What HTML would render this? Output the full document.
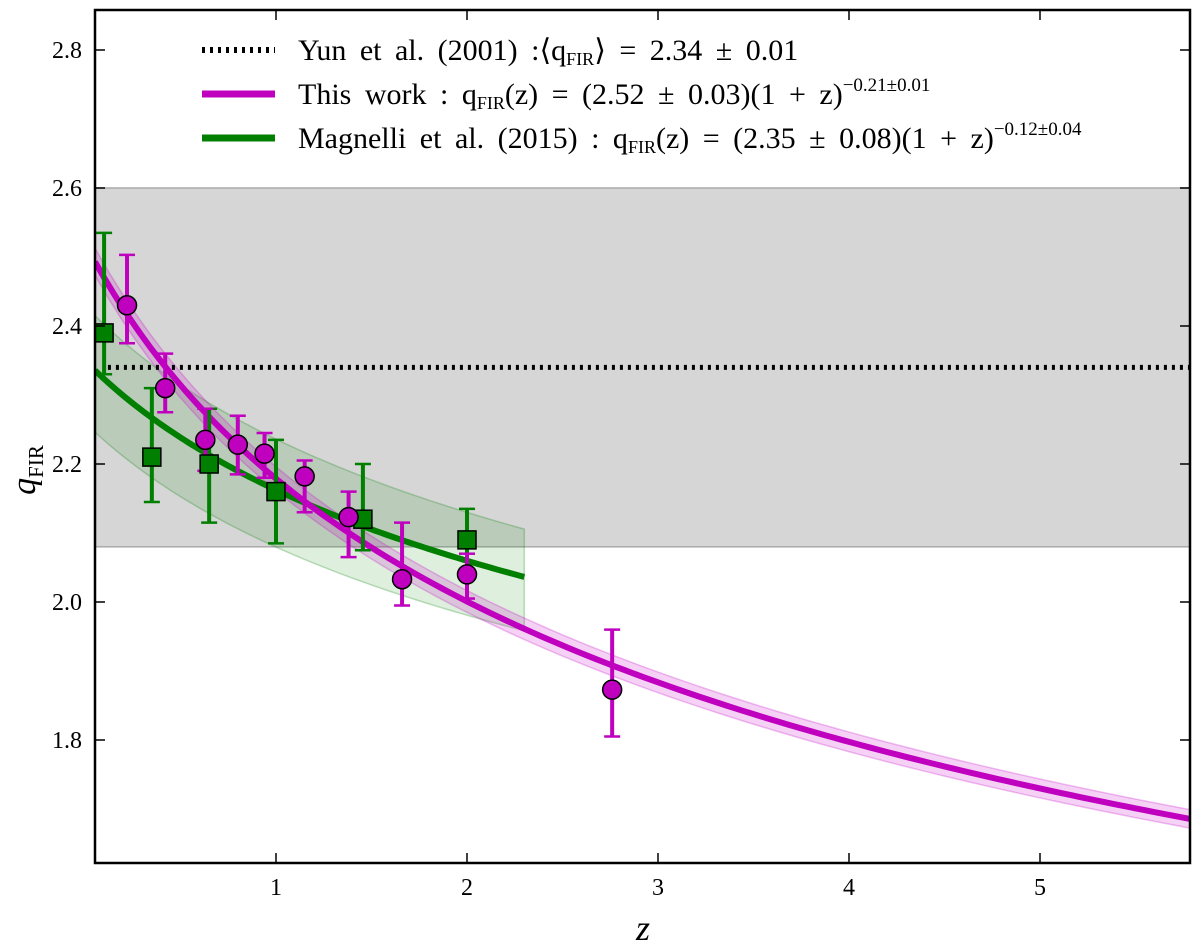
<!DOCTYPE html>
<html><head><meta charset="utf-8"><style>
body{margin:0;background:#fff;}
svg text{font-family:"Liberation Serif",serif;}
</style></head><body>
<svg id="chart" width="1200" height="947" xmlns="http://www.w3.org/2000/svg"></svg>
<script>
const magZ=[0.22,0.42,0.63,0.80,0.94,1.15,1.38,1.66,2.0,2.76];
const magQ=[2.43,2.31,2.235,2.228,2.215,2.182,2.123,2.033,2.04,1.873];
const magLo=[2.375,2.275,2.19,2.185,2.18,2.13,2.065,1.995,2.005,1.805];
const magHi=[2.503,2.36,2.28,2.27,2.245,2.205,2.16,2.115,2.07,1.96];
const grnZ=[0.10,0.35,0.65,1.0,1.455,2.0];
const grnQ=[2.39,2.21,2.20,2.16,2.12,2.09];
const grnLo=[2.33,2.145,2.115,2.085,2.075,2.045];
const grnHi=[2.535,2.31,2.28,2.235,2.20,2.135];
const xTicks=[1,2,3,4,5];
const yTicks=[1.8,2.0,2.2,2.4,2.6,2.8];
const fitMag=[2.52,-0.21], fitGrn=[2.35,-0.12];
const yunQ=2.34, bandLo=2.08, bandHi=2.6;

const L=95,R=1190,T=10,B=863;
const X=z=>85+191*z, Y=v=>602-(v-2)*690;
const svg=document.getElementById('chart');
const NS='http://www.w3.org/2000/svg';
function mk(tag,attrs,parent){const e=document.createElementNS(NS,tag);for(const k in attrs)e.setAttribute(k,attrs[k]);(parent||svg).appendChild(e);return e;}
const zmin=(L-85)/191, zmax=(R-85)/191;
const clip=mk('clipPath',{id:'pc'});mk('rect',{x:L,y:T,width:R-L,height:B-T},clip);
const g=mk('g',{'clip-path':'url(#pc)'});
let e;
e=mk('rect',{x:L,y:Y(bandHi),width:R-L,height:Y(bandLo)-Y(bandHi),fill:'#d6d6d6',stroke:'#aaa','stroke-width':1.5},g);

function band(a,b,a2,b2,z0,z1,fill,stroke,name){let up=[],lo=[];for(let i=0;i<=80;i++){const z=z0+(z1-z0)*i/80;up.push(X(z)+','+Y(a*Math.pow(1+z,b)));lo.unshift(X(z)+','+Y(a2*Math.pow(1+z,b2)));}
const p=mk('polygon',{points:up.concat(lo).join(' '),fill:fill,stroke:stroke,'stroke-width':1.5},g);}
function curve(a,b,z0,z1,col,name){let pts=[];for(let i=0;i<=120;i++){const z=z0+(z1-z0)*i/120;pts.push(X(z)+','+Y(a*Math.pow(1+z,b)));}
const p=mk('polyline',{points:pts.join(' '),fill:'none',stroke:col,'stroke-width':6},g);}
band(2.43,fitGrn[1],2.26,fitGrn[1],zmin,2.3,'rgba(0,128,0,0.13)','rgba(0,128,0,0.25)','magnelli-fit-band');
band(fitMag[0]+0.02,fitMag[1],fitMag[0]-0.02,fitMag[1],zmin,zmax,'rgba(200,0,200,0.18)','rgba(200,0,200,0.25)','this-work-fit-band');
e=mk('line',{x1:X(0.12),x2:R,y1:Y(yunQ),y2:Y(yunQ),stroke:'#000','stroke-width':5,'stroke-dasharray':'3,5'},g);

curve(fitGrn[0],fitGrn[1],zmin,2.3,'#007f00','magnelli-fit-line');
curve(fitMag[0],fitMag[1],zmin,zmax,'#bf00bf','this-work-fit-line');
function err(x,lo,hi,col){mk('line',{x1:x,x2:x,y1:Y(lo),y2:Y(hi),stroke:col,'stroke-width':4},g);
mk('line',{x1:x-8,x2:x+8,y1:Y(lo),y2:Y(lo),stroke:col,'stroke-width':2.5},g);mk('line',{x1:x-8,x2:x+8,y1:Y(hi),y2:Y(hi),stroke:col,'stroke-width':2.5},g);}
grnZ.forEach((z,i)=>{err(X(z),grnLo[i],grnHi[i],'#007f00');});
magZ.forEach((z,i)=>{err(X(z),magLo[i],magHi[i],'#bf00bf');});
grnZ.forEach((z,i)=>{const r=mk('rect',{x:X(z)-9,y:Y(grnQ[i])-9,width:18,height:18,fill:'#007f00',stroke:'#000','stroke-width':1.5},g);
});
magZ.forEach((z,i)=>{const c=mk('circle',{cx:X(z),cy:Y(magQ[i]),r:9.5,fill:'#bf00bf',stroke:'#000','stroke-width':1.5},g);
});
e=mk('rect',{x:L,y:T,width:R-L,height:B-T,fill:'none',stroke:'#000','stroke-width':2.5});

xTicks.forEach(t=>{const x=X(t);mk('line',{x1:x,x2:x,y1:B,y2:B-10,stroke:'#000','stroke-width':1.5});mk('line',{x1:x,x2:x,y1:T,y2:T+10,stroke:'#000','stroke-width':1.5});
const tx=mk('text',{x:x,y:B+32,'font-size':24,'text-anchor':'middle'});tx.textContent=t;});
yTicks.forEach(t=>{const y=Y(t);mk('line',{x1:L,x2:L+10,y1:y,y2:y,stroke:'#000','stroke-width':1.5});mk('line',{x1:R,x2:R-10,y1:y,y2:y,stroke:'#000','stroke-width':1.5});
const tx=mk('text',{x:82,y:y+8,'font-size':24,'text-anchor':'end'});tx.textContent=t.toFixed(1);});
</script>
<svg style="position:absolute;left:0;top:0" width="1200" height="947" xmlns="http://www.w3.org/2000/svg">
<text x="643" y="940" font-size="36" font-style="italic" text-anchor="middle" font-family="Liberation Serif,serif">z</text>
<text transform="translate(35,470) rotate(-90)" font-size="34" text-anchor="middle" font-family="Liberation Serif,serif"><tspan font-style="italic">q</tspan><tspan font-size="21" dy="8">FIR</tspan></text>
<g font-family="Liberation Serif,serif" font-size="30" word-spacing="6">
<line x1="202" x2="275" y1="50" y2="50" stroke="#000" stroke-width="6" stroke-dasharray="3,5"/>
<text x="298" y="60">Yun et al. (2001) :⟨q<tspan font-size="18" dy="5">FIR</tspan><tspan dy="-5">⟩ = 2.34 ± 0.01</tspan></text>
<line x1="202" x2="275" y1="94" y2="94" stroke="#bf00bf" stroke-width="7"/>
<text x="298" y="104">This work :  q<tspan font-size="18" dy="5">FIR</tspan><tspan dy="-5">(z) = (2.52 ± 0.03)(1 + z)</tspan><tspan font-size="19" dy="-13">−0.21±0.01</tspan></text>
<line x1="202" x2="275" y1="138" y2="138" stroke="#007f00" stroke-width="7"/>
<text x="298" y="148">Magnelli et al. (2015) :  q<tspan font-size="18" dy="5">FIR</tspan><tspan dy="-5">(z) = (2.35 ± 0.08)(1 + z)</tspan><tspan font-size="19" dy="-13">−0.12±0.04</tspan></text>
</g>
</svg>
</body></html>
